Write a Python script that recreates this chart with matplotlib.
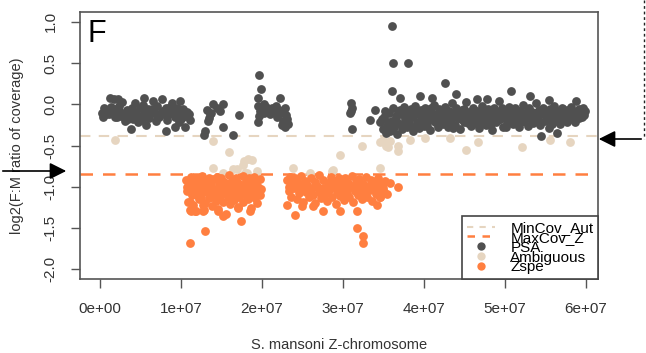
import matplotlib
matplotlib.use("Agg")
import matplotlib.pyplot as plt
from matplotlib.patches import FancyArrowPatch
from matplotlib.lines import Line2D

plt.rcParams['font.family'] = ['Liberation Sans', 'DejaVu Sans']

# ---------------- data (positions in Mb, values log2 F:M) ----------------
psa_pos = [
    # region 1
    0.2, 0.5, 0.8, 1.0, 1.2, 1.3, 1.5, 1.7, 1.9, 2.1, 2.2, 2.3, 2.5, 2.7, 2.9, 3.1, 3.3, 3.5, 3.7, 3.8,
    3.9, 4.1, 4.3, 4.5, 4.7, 4.9, 5.1, 5.3, 5.4, 5.5, 5.7, 5.9, 6.1, 6.3, 6.5, 6.7, 6.9, 7.1, 7.3, 7.5,
    7.7, 7.9, 8.1, 8.1, 8.3, 8.5, 8.7, 8.9, 9.1, 9.3, 9.3, 9.5, 9.7, 9.9, 9.9, 10.1, 10.3, 10.5, 10.5,
    10.7, 11.0, 11.1,
    0.4, 1.1, 1.8, 2.6, 3.4, 4.0, 4.6, 5.2, 5.8, 6.4, 7.0, 7.6, 8.2, 8.8, 9.4, 10.0, 10.6,
    # region 2
    12.9, 13.0, 13.2, 13.3, 13.5, 13.6, 13.7, 14.0, 14.5, 14.8, 15.2, 15.2, 16.4, 17.2,
    # region 3
    19.6, 19.9, 19.5, 19.5, 22.2, 19.5, 19.8, 20.0, 20.3, 20.5, 20.8, 21.0, 21.2, 21.5, 21.7, 21.9,
    22.1, 22.4, 22.6, 22.8, 23.0, 23.2, 23.1, 20.2, 19.6, 22.9, 22.5,
    # region 4
    31.0, 31.0, 30.9, 31.1, 31.1, 33.3, 33.9,
    # region 5
    34.6, 34.9, 35.1, 35.3, 35.5, 35.7, 35.8, 36.0, 36.2, 36.3, 36.5, 36.7, 36.8, 37.0, 37.2, 37.3,
    37.5, 37.7, 37.9, 38.0, 38.2, 38.4, 38.6, 38.7, 38.9, 39.1, 39.3, 39.4, 39.6, 39.8, 40.0, 40.1,
    40.3, 40.5, 40.7, 40.8, 41.0, 41.2, 41.4, 41.5, 41.7, 41.9, 42.1, 42.2, 42.4, 42.6, 42.8, 43.0,
    43.1, 43.3, 43.5, 43.7, 43.8, 44.0, 44.2, 44.4, 44.5, 44.7, 44.9, 45.1, 45.2, 45.4, 45.6, 45.8,
    45.9, 46.1, 46.3, 46.5, 46.6, 46.8, 47.0, 47.2, 47.3, 47.5, 47.7, 47.9, 48.0, 48.2, 48.4, 48.6,
    48.7, 48.9, 49.1, 49.3, 49.4, 49.6, 49.8, 50.0, 50.1, 50.3, 50.5, 50.7, 50.8, 51.0, 51.2, 51.4,
    51.5, 51.7, 51.9, 52.1, 52.2, 52.4, 52.6, 52.8, 52.9, 53.1, 53.3, 53.5, 53.6, 53.8, 54.0, 54.2,
    54.3, 54.5, 54.7, 54.9, 55.0, 55.2, 55.4, 55.6, 55.7, 55.9, 56.1, 56.3, 56.4, 56.6, 56.8, 57.0,
    57.1, 57.3, 57.5, 57.7, 57.8, 58.0, 58.2, 58.4, 58.5, 58.7, 58.9, 59.1, 59.2, 59.4, 59.6, 59.8,
    59.9,
    34.8, 35.2, 35.6, 36.1, 36.6, 37.1, 37.6, 38.1, 38.5, 39.0, 39.5, 39.9, 40.4, 40.9, 41.3, 41.8,
    42.3, 42.7, 43.2, 43.6, 44.1, 44.6, 45.0, 45.5, 46.0, 46.4, 46.9, 47.4, 47.8, 48.3, 48.8, 49.2,
    49.7, 50.2, 50.6, 51.1, 51.6, 52.0, 52.5, 53.0, 53.4, 53.9, 54.4, 54.8, 55.3, 55.8, 56.2, 56.7,
    57.2, 57.6, 58.1, 58.6, 59.0, 59.5,
    # region 5 outliers
    36.1, 36.2, 38.0, 36.1, 42.6, 37.0, 50.7, 53.1, 56.4, 54.4, 44.0, 41.0, 39.5, 46.5, 47.8, 55.5, 58.8,
]
psa_val = [
    -0.10, -0.05, -0.12, -0.08, 0.08, -0.03, -0.10, 0.06, -0.06, -0.15, 0.07, -0.02, -0.09, 0.03, -0.12, -0.20, -0.07, -0.18, -0.13, -0.30,
    -0.04, -0.18, 0.02, -0.10, -0.22, -0.05, -0.14, -0.01, 0.08, -0.09, -0.25, -0.06, -0.17, -0.11, 0.04, -0.08, -0.20, -0.02, -0.15, -0.12,
    0.06, -0.10, -0.05, -0.33, -0.19, -0.12, -0.03, 0.02, -0.08, -0.16, -0.28, -0.04, -0.22, 0.04, -0.10, -0.15, -0.06, -0.14, -0.28,
    -0.09, -0.12, -0.19,
    -0.15, -0.12, -0.16, -0.14, -0.10, -0.08, -0.15, -0.19, -0.12, -0.06, -0.14, -0.08, -0.13, -0.10, -0.06, -0.18, -0.10,
    -0.37, -0.33, -0.07, -0.20, -0.17, -0.12, -0.10, 0.00, -0.05, -0.08, 0.00, -0.28, -0.37, -0.13,
    0.36, 0.18, 0.08, -0.22, 0.08, -0.02, -0.08, -0.04, -0.10, -0.03, -0.06, -0.12, -0.05, -0.09, -0.02, -0.15,
    -0.07, -0.11, -0.20, -0.04, -0.13, -0.24, -0.18, 0.00, -0.14, -0.27, -0.25,
    0.01, -0.08, -0.11, -0.05, -0.30, -0.19, -0.07,
    -0.22, -0.30, -0.15, -0.35, -0.26, -0.10, -0.32, -0.20, -0.05, -0.28, -0.14, -0.36, -0.08, -0.24, -0.12, -0.30,
    -0.03, -0.18, -0.27, -0.10, -0.21, -0.06, -0.33, -0.15, -0.02, -0.23, -0.11, -0.29, -0.07, -0.17, -0.26, -0.04,
    -0.13, -0.20, -0.09, -0.31, -0.16, -0.01, -0.22, -0.12, -0.27, -0.06, -0.18, -0.10, -0.24, -0.03, -0.15, -0.28,
    -0.08, -0.19, 0.02, -0.13, -0.25, -0.05, -0.17, -0.11, -0.30, -0.07, -0.21, -0.14, 0.03, -0.19, -0.09, -0.26,
    -0.12, -0.04, -0.23, -0.16, -0.08, -0.29, -0.13, -0.02, -0.20, -0.10, -0.25, -0.06, -0.17, -0.12, -0.31, -0.04,
    -0.15, -0.22, -0.09, 0.04, -0.18, -0.11, -0.27, -0.07, -0.14, -0.21, -0.03, -0.16, -0.10, -0.24, -0.05, -0.19,
    -0.12, -0.28, -0.08, -0.15, -0.01, -0.20, -0.11, -0.26, -0.06, -0.17, -0.09, -0.23, -0.13, 0.01, -0.18, -0.07,
    -0.25, -0.12, -0.04, -0.20, -0.10, -0.16, -0.29, -0.06, -0.14, -0.21, -0.02, -0.11, -0.18, -0.08, -0.24, -0.13,
    -0.05, -0.17, -0.10, -0.22, -0.07, -0.15, -0.03, -0.12, -0.19, -0.09, -0.14, -0.06, -0.17, -0.11, -0.04, -0.13,
    -0.08,
    -0.18, -0.08, -0.21, -0.31, -0.19, -0.07, -0.25, -0.15, -0.28, -0.12, -0.20, -0.09, -0.26, -0.05, -0.17, -0.24,
    -0.08, -0.20, -0.13, -0.29, -0.10, -0.18, -0.06, -0.23, -0.15, -0.10, -0.20, -0.07, -0.16, -0.24, -0.10, -0.19,
    -0.05, -0.27, -0.12, -0.17, -0.08, -0.22, -0.14, -0.04, -0.19, -0.11, -0.21, -0.08, -0.14, -0.24, -0.10, -0.16,
    -0.06, -0.19, -0.12, -0.22, -0.09, -0.16,
    0.95, 0.50, 0.50, 0.16, 0.26, 0.08, 0.16, 0.10, -0.35, -0.38, 0.12, 0.08, 0.10, 0.06, 0.07, 0.05, 0.04,
]

amb_pos = [1.9, 14.0, 15.9, 17.8, 18.8, 17.7, 14.0, 19.4, 23.8, 25.9, 28.6, 29.6, 32.3, 34.6, 34.9,
           35.3, 35.8, 35.6, 36.8, 36.8, 34.6, 38.3, 40.1, 43.2, 45.2, 46.7, 52.1, 55.6, 58.0, 28.8,
           18.3, 16.4, 17.9, 15.2, 16.9, 18.1]
amb_val = [-0.43, -0.45, -0.58, -0.69, -0.67, -0.74, -0.77, -0.81, -0.77, -0.83, -0.81, -0.61, -0.51, -0.46, -0.43,
           -0.50, -0.44, -0.52, -0.57, -0.51, -0.77, -0.43, -0.41, -0.41, -0.56, -0.46, -0.52, -0.43, -0.46, -0.80,
           -0.66, -0.79, -0.83, -0.83, -0.79, -0.83]

zspe_pos = [
    # cluster A
    10.6, 10.8, 10.9, 11.0, 11.1, 11.2, 11.3, 11.4, 11.5, 11.6, 11.8, 11.9, 12.0, 12.1, 12.2, 12.3,
    12.5, 12.6, 12.7, 12.8, 12.9, 13.0, 13.1, 13.2, 13.4, 13.5, 13.6, 13.7, 13.8, 13.9, 14.0, 14.2,
    14.3, 14.4, 14.5, 14.6, 14.7, 14.8, 15.0, 15.1, 15.2, 15.3, 15.4, 15.5, 15.6, 15.8, 15.9, 16.0,
    16.1, 16.2, 16.3, 16.4, 16.6, 16.7, 16.8, 16.9, 17.0, 17.1, 17.2, 17.4, 17.5, 17.6, 17.7, 17.9,
    18.0, 18.2, 18.3, 18.4, 18.5, 18.6, 18.7, 18.8, 19.0, 19.1, 19.2, 19.3, 19.4, 19.5, 19.6, 19.8,
    19.9, 10.7, 11.7, 12.4, 13.3, 14.1, 14.9, 15.7, 16.5, 17.3, 18.1, 18.9, 19.7, 12.0, 16.0, 18.0,
    19.0,
    # cluster A outliers
    11.1, 13.0, 17.4, 11.2, 11.7, 12.7, 14.6, 15.2, 17.0, 18.5, 12.7, 11.1,
    # cluster B
    23.1, 23.3, 23.5, 23.6, 23.8, 24.0, 24.1, 24.3, 24.5, 24.6, 24.8, 25.0, 25.1, 25.3, 25.5, 25.6,
    25.8, 26.0, 26.1, 26.3, 26.5, 26.6, 26.8, 27.0, 27.1, 27.3, 27.5, 27.6, 27.8, 28.0, 28.1, 28.3,
    28.5, 28.6, 28.8, 29.0, 29.1, 29.3, 29.5, 29.6, 29.8, 30.0, 30.1, 30.3, 30.5, 30.6, 30.8, 31.0,
    31.1, 31.3, 31.5, 31.6, 31.8, 32.0, 32.1, 32.3, 32.5, 32.6, 32.8, 33.0, 33.1, 33.3, 33.5, 33.6,
    33.8, 34.0, 34.1, 34.3, 34.5, 34.6, 34.8, 35.0, 35.2, 23.4, 24.4, 25.4, 26.4, 27.4, 28.4, 29.4,
    30.4, 31.4, 32.4, 33.4, 34.4, 35.1,
    # cluster B outliers
    23.1, 24.1, 24.9, 31.7, 32.5, 32.5, 35.8, 36.8, 35.4, 34.6, 29.6, 31.7, 27.5, 26.3, 34.2,
]
zspe_val = [
    -0.92, -1.05, -1.18, -0.98, -1.28, -0.88, -1.10, -1.00, -1.22, -0.94, -1.08, -1.30, -0.90, -1.02, -1.15, -0.96,
    -1.12, -0.87, -1.04, -1.28, -0.99, -1.20, -0.93, -1.07, -0.89, -1.14, -1.01, -0.95, -1.24, -1.09, -0.91, -1.03,
    -1.17, -0.88, -1.06, -1.27, -0.97, -1.11, -0.90, -1.02, -1.19, -0.94, -1.08, -1.33, -0.99, -1.13, -0.86, -1.05,
    -1.21, -0.96, -1.10, -0.92, -1.16, -1.01, -0.89, -1.07, -1.25, -0.95, -1.12, -0.98, -1.04, -0.87, -1.18, -1.00,
    -0.93, -1.09, -1.15, -0.90, -1.03, -1.26, -0.97, -1.11, -0.88, -1.06, -1.14, -0.94, -1.20, -1.00, -1.08, -0.91,
    -1.03, -1.00, -1.04, -0.98, -1.00, -1.12, -0.99, -1.02, -1.00, -1.05, -1.01, -0.98, -1.10, -1.10, -0.95, -1.10,
    -1.00,
    -1.68, -1.54, -1.42, -1.30, -1.30, -1.30, -1.30, -1.36, -1.26, -1.30, -1.22, -1.18,
    -0.92, -1.05, -0.88, -1.12, -0.97, -1.02, -0.90, -1.15, -0.95, -1.08, -0.87, -1.00, -1.18, -0.93, -1.06, -0.98,
    -1.13, -0.89, -1.03, -1.10, -0.94, -1.20, -0.99, -1.07, -0.86, -1.14, -1.01, -0.92, -1.09, -1.17, -0.96, -1.04,
    -0.88, -1.12, -1.00, -0.93, -1.21, -1.06, -0.90, -1.11, -0.97, -1.03, -1.16, -0.89, -1.08, -0.95, -1.13, -1.00,
    -0.87, -1.19, -1.05, -0.94, -1.10, -0.91, -1.02, -1.15, -0.97, -1.07, -0.88, -1.12, -0.99, -1.04, -0.92, -1.17,
    -1.01, -0.95, -1.09, -0.90, -1.05, -1.13, -0.98, -1.02, -0.93, -1.00, -1.00, -1.02, -1.00, -1.05, -0.99, -1.00,
    -1.02, -0.99, -1.03, -1.00, -0.98, -1.07,
    -1.22, -1.34, -1.24, -1.50, -1.60, -1.68, -0.95, -1.00, -1.09, -1.13, -1.30, -1.30, -1.30, -1.24, -1.22,
]

min_cov_aut = -0.39
max_cov_z = -0.84

x_ticks = [0, 1e7, 2e7, 3e7, 4e7, 5e7, 6e7]
x_ticklabels = ["0e+00", "1e+07", "2e+07", "3e+07", "4e+07", "5e+07", "6e+07"]
y_ticks = [1.0, 0.5, 0.0, -0.5, -1.0, -1.5, -2.0]
y_ticklabels = ["1.0", "0.5", "0.0", "-0.5", "-1.0", "-1.5", "-2.0"]

c_psa = '#505050'
c_amb = '#E6D5C0'
c_zspe = '#FF7F40'

# ---------------- figure ----------------
W, H = 646, 353
fig = plt.figure(figsize=(W / 100, H / 100), dpi=100)
ax = fig.add_axes([80 / W, 1 - 279 / H, (598 - 80) / W, (279 - 12) / H])

ax.axhline(min_cov_aut, color=c_amb, lw=1.5, ls=(0, (5, 4)), zorder=1)
ax.axhline(max_cov_z, color=c_zspe, lw=1.8, ls=(0, (5, 4)), zorder=1)

ms = 40
ax.scatter([p * 1e6 for p in psa_pos], psa_val, s=ms, color=c_psa, linewidths=0, zorder=3)
ax.scatter([p * 1e6 for p in amb_pos], amb_val, s=ms, color=c_amb, linewidths=0, zorder=2)
ax.scatter([p * 1e6 for p in zspe_pos], zspe_val, s=ms, color=c_zspe, linewidths=0, zorder=3)

ax.set_xlim(-0.247e7, 6.15e7)
ax.set_ylim(-2.12, 1.12)
ax.set_xticks(x_ticks)
ax.set_xticklabels(x_ticklabels, fontsize=11, color='#333333')
ax.set_yticks(y_ticks)
ax.set_yticklabels(y_ticklabels, fontsize=11, color='#333333', rotation=90, va='center')
ax.tick_params(axis='both', direction='out', length=6.5, width=1, color='#555555')
ax.tick_params(axis='x', pad=10)
ax.tick_params(axis='y', pad=9.5)
for s in ax.spines.values():
    s.set_color('#555555')
    s.set_linewidth(1.2)

ax.set_ylabel("log2(F:M ratio of coverage)", fontsize=10.5, color='#333333', labelpad=14)
ax.set_xlabel("S. mansoni Z-chromosome", fontsize=10.5, color='#333333', labelpad=16)

ax.text(0.014, 0.975, "F", transform=ax.transAxes, fontsize=22, va='top', ha='left', color='black')

handles = [
    Line2D([], [], color=c_amb, lw=1.5, ls=(0, (3, 3))),
    Line2D([], [], color=c_zspe, lw=1.8, ls=(0, (3, 3))),
    Line2D([], [], color=c_psa, marker='o', ls='none', ms=6, mew=0),
    Line2D([], [], color=c_amb, marker='o', ls='none', ms=6, mew=0),
    Line2D([], [], color=c_zspe, marker='o', ls='none', ms=6, mew=0),
]
labels = ["MinCov_Aut", "MaxCov_Z", "PSA", "Ambiguous", "Zspe"]
leg = ax.legend(handles, labels, loc='lower right', fontsize=11, labelspacing=-0.27,
                handlelength=1.85, handletextpad=1.0, borderpad=0.3, borderaxespad=0,
                fancybox=False, frameon=True, framealpha=1)
leg.get_frame().set_edgecolor('#444444')
leg.get_frame().set_linewidth(1.2)

# ---------------- external arrows ----------------
fig.add_artist(FancyArrowPatch((0, H - 171), (69, H - 171), transform=None,
                               arrowstyle='-|>,head_length=10,head_width=5', mutation_scale=1,
                               color='black', lw=1.2))
fig.add_artist(Line2D([644, 644], [H, H - 139], transform=None, color='#222222', lw=1,
                      ls=(0, (2, 2))))
fig.add_artist(FancyArrowPatch((644, H - 139), (596, H - 139), transform=None,
                               arrowstyle='-|>,head_length=10,head_width=5', mutation_scale=1,
                               color='black', lw=1.2))

fig.savefig("out.png", dpi=100)
